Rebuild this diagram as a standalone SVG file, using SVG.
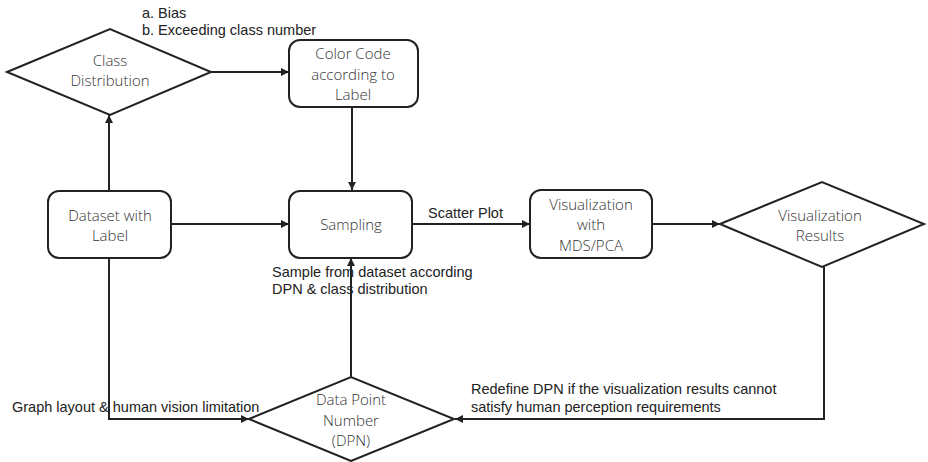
<svg xmlns="http://www.w3.org/2000/svg" width="928" height="462" viewBox="0 0 928 462">
<defs>
<style>
.shape{fill:#fff;stroke:#222;stroke-width:2}
.edge{fill:none;stroke:#222;stroke-width:2}
.nt{font-family:"Open Sans","Noto Sans",sans-serif;font-weight:300;font-size:15px;fill:#333;text-anchor:middle}
.lbl{font-family:"Liberation Sans",Arial,sans-serif;font-size:14.5px;fill:#222}
</style>
<marker id="ah" viewBox="0 0 10 10" refX="10" refY="5" markerWidth="4" markerHeight="4" orient="auto" markerUnits="strokeWidth">
<path d="M0,0 L10,5 L0,10 z" fill="#222"/>
</marker>
</defs>
<rect width="928" height="462" fill="#fff"/>
<g id="connectors">
<path class="edge" d="M211,72 H289" marker-end="url(#ah)"/>
<path class="edge" d="M352,107 V190" marker-end="url(#ah)"/>
<path class="edge" d="M109,191 V115" marker-end="url(#ah)"/>
<path class="edge" d="M171,224 H289" marker-end="url(#ah)"/>
<path class="edge" d="M412,224 H530" marker-end="url(#ah)"/>
<path class="edge" d="M652,224 H720" marker-end="url(#ah)"/>
<path class="edge" d="M351,377 V258" marker-end="url(#ah)"/>
<path class="edge" d="M109,258 V419 H249" marker-end="url(#ah)"/>
<path class="edge" d="M824,267 V419 H455" marker-end="url(#ah)"/>
<text class="lbl" x="142" y="18">a. Bias</text>
<text class="lbl" x="142" y="35">b. Exceeding class number</text>
<text class="lbl" x="428" y="218">Scatter Plot</text>
<text class="lbl" x="272" y="277">Sample from dataset according</text>
<text class="lbl" x="272" y="294">DPN &amp; class distribution</text>
<text class="lbl" x="12" y="412">Graph layout &amp; human vision limitation</text>
<text class="lbl" x="471" y="394">Redefine DPN if the visualization results cannot</text>
<text class="lbl" x="471" y="412">satisfy human perception requirements</text>
</g>
<g id="class-distribution">
<polygon class="shape" points="7,72 110,29 211,72 110,115"/>
<text class="nt" x="110" y="65.5">Class</text>
<text class="nt" x="110" y="86">Distribution</text>
</g>
<g id="color-code">
<rect class="shape" x="289" y="40" width="129" height="67" rx="11"/>
<text class="nt" x="353" y="59">Color Code</text>
<text class="nt" x="353" y="79.5">according to</text>
<text class="nt" x="353" y="100">Label</text>
</g>
<g id="dataset">
<rect class="shape" x="48" y="191" width="123" height="67" rx="11"/>
<text class="nt" x="110" y="220.5">Dataset with</text>
<text class="nt" x="110" y="241">Label</text>
</g>
<g id="sampling">
<rect class="shape" x="289" y="191" width="123" height="67" rx="11"/>
<text class="nt" x="351" y="230">Sampling</text>
</g>
<g id="visualization">
<rect class="shape" x="530" y="190" width="122" height="68" rx="11"/>
<text class="nt" x="591" y="209.5">Visualization</text>
<text class="nt" x="591" y="230">with</text>
<text class="nt" x="591" y="250.5">MDS/PCA</text>
</g>
<g id="visualization-results">
<polygon class="shape" points="720,224 822,182 924,224 822,267"/>
<text class="nt" x="820" y="220.5">Visualization</text>
<text class="nt" x="820" y="241">Results</text>
</g>
<g id="dpn">
<polygon class="shape" points="249,419 351,377 454,419 351,461"/>
<text class="nt" x="351" y="405">Data Point</text>
<text class="nt" x="351" y="425.5">Number</text>
<text class="nt" x="351" y="446">(DPN)</text>
</g>
</svg>
